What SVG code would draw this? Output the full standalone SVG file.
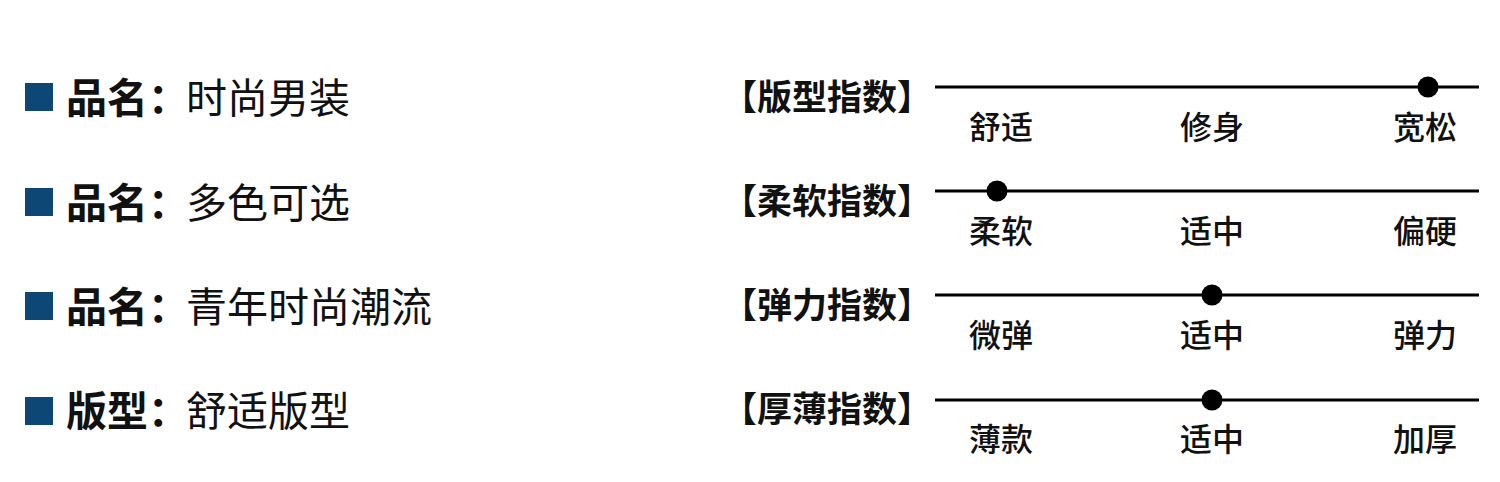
<svg xmlns="http://www.w3.org/2000/svg" width="1500" height="482" viewBox="0 0 1500 482">
<style>
.sq{fill:#0c4776}
.k{font-family:"Noto Sans CJK SC","Noto Sans",sans-serif;font-size:41px;font-weight:700;fill:#111}
.v{font-family:"Noto Sans CJK SC","Noto Sans",sans-serif;font-size:41px;font-weight:400;fill:#111}
.t{font-family:"Noto Sans CJK SC","Noto Sans",sans-serif;font-size:35px;font-weight:700;fill:#111}
.s{font-family:"Noto Sans CJK SC","Noto Sans",sans-serif;font-size:32px;font-weight:500;fill:#111;text-anchor:middle}
.ln{stroke:#000;stroke-width:3}
.dot{fill:#000}
</style>
<rect width="1500" height="482" fill="#fff"/>
<g id="info1"><rect class="sq" x="25" y="83" width="28" height="28"/><text class="k" x="66" y="113">品名：</text><text class="v" x="186" y="113">时尚男装</text></g>
<g id="info2"><rect class="sq" x="25" y="188" width="28" height="28"/><text class="k" x="66" y="218">品名：</text><text class="v" x="186" y="218">多色可选</text></g>
<g id="info3"><rect class="sq" x="25" y="292" width="28" height="28"/><text class="k" x="66" y="322">品名：</text><text class="v" x="186" y="322">青年时尚潮流</text></g>
<g id="info4"><rect class="sq" x="25" y="397" width="28" height="28"/><text class="k" x="66" y="426">版型：</text><text class="v" x="186" y="426">舒适版型</text></g>
<g id="connectors">
<line class="ln" x1="935" y1="87" x2="1479" y2="87"/>
<line class="ln" x1="935" y1="191" x2="1479" y2="191"/>
<line class="ln" x1="935" y1="295" x2="1479" y2="295"/>
<line class="ln" x1="935" y1="400" x2="1479" y2="400"/>
</g>
<g id="scale1"><text class="t" x="722" y="110">【版型指数】</text><circle class="dot" cx="1428" cy="87" r="10.5"/><text class="s" x="1001" y="139">舒适</text><text class="s" x="1212" y="139">修身</text><text class="s" x="1425" y="139">宽松</text></g>
<g id="scale2"><text class="t" x="722" y="214">【柔软指数】</text><circle class="dot" cx="997" cy="191" r="10.5"/><text class="s" x="1001" y="243">柔软</text><text class="s" x="1212" y="243">适中</text><text class="s" x="1425" y="243">偏硬</text></g>
<g id="scale3"><text class="t" x="722" y="318">【弹力指数】</text><circle class="dot" cx="1212" cy="295" r="10.5"/><text class="s" x="1001" y="347">微弹</text><text class="s" x="1212" y="347">适中</text><text class="s" x="1425" y="347">弹力</text></g>
<g id="scale4"><text class="t" x="722" y="422">【厚薄指数】</text><circle class="dot" cx="1212" cy="400" r="10.5"/><text class="s" x="1001" y="451">薄款</text><text class="s" x="1212" y="451">适中</text><text class="s" x="1425" y="451">加厚</text></g>
</svg>
